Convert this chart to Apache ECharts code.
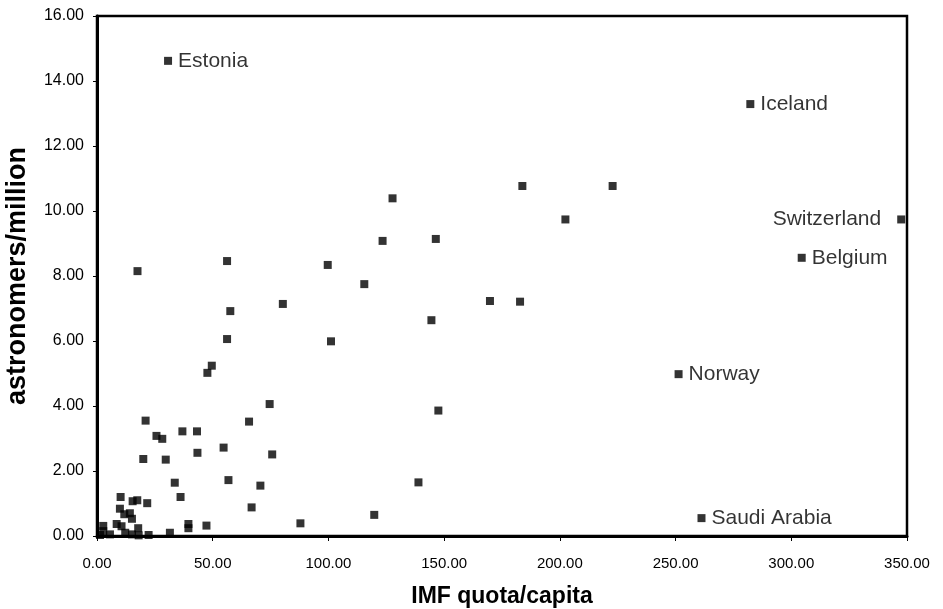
<!DOCTYPE html>
<html>
<head>
<meta charset="utf-8">
<script src="https://cdn.jsdelivr.net/npm/echarts@6/dist/echarts.min.js"></script>
<style>
html,body{margin:0;padding:0;background:#fff;}
#chart{width:943px;height:609px;}
</style>
</head>
<body>
<div id="chart"></div>
<script>
// Labelled countries
const countryNames = ["Estonia", "Iceland", "Switzerland", "Belgium", "Norway", "Saudi Arabia"];
const countryQuota = [30.7, 282.3, 347.5, 304.5, 251.3, 261.2];
const countryAstro = [14.62, 13.29, 9.74, 8.56, 4.98, 0.55];
const labelSide = ["right", "right", "left", "right", "right", "right"];

// Unlabelled countries
const otherQuota = [183.8, 222.8, 202.4, 127.7, 123.4, 146.4, 99.7, 115.5, 80.3, 144.5, 101.1, 147.5, 138.9, 119.8, 87.9, 169.8, 182.8,
  56.2, 57.6, 56.2, 49.6, 47.7, 74.6, 65.7, 21.0, 25.7, 28.2, 36.9, 43.2, 20.0, 29.7, 43.4, 54.7, 75.7, 33.6, 56.8, 70.6, 36.1, 66.8,
  10.2, 15.4, 17.4, 21.7, 9.9, 11.8, 14.2, 15.1, 39.5, 39.5, 47.3, 31.5, 2.7, 2.7, 8.5, 10.6, 17.8, 12.2, 15.1, 18.0, 22.3, 5.6, 1.3, 17.5];
const otherAstro = [10.77, 10.77, 9.74, 10.39, 9.08, 9.14, 8.34, 7.75, 7.14, 6.64, 5.99, 3.86, 1.65, 0.65, 0.39, 7.23, 7.21,
  8.46, 6.92, 6.06, 5.24, 5.02, 4.06, 3.52, 3.55, 3.08, 2.99, 3.22, 3.22, 2.37, 2.35, 2.56, 2.72, 2.51, 1.64, 1.72, 1.55, 1.20, 0.88,
  1.20, 1.07, 1.10, 1.01, 0.84, 0.67, 0.70, 0.53, 0.37, 0.24, 0.32, 0.10, 0.31, 0.15, 0.37, 0.30, 0.24, 0.10, 0.05, 0.02, 0.03, 0.05, 0.03, 8.15];

const xTitle = "IMF quota/capita";
const yTitle = "astronomers/million";

const font = "Liberation Sans, Arial, sans-serif";

const labelledData = countryNames.map((n, i) => ({
  name: n,
  value: [countryQuota[i], countryAstro[i]],
  label: {
    show: true,
    position: labelSide[i],
    formatter: '{b}',
    distance: labelSide[i] === 'left' ? 16 : 6,
    color: '#000',
    fontFamily: font,
    fontSize: 21
  }
}));
const otherData = otherQuota.map((x, i) => [x, otherAstro[i]]);

const chart = echarts.init(document.getElementById('chart'), null, {renderer: 'canvas'});
chart.setOption({
  animation: false,
  backgroundColor: '#fff',
  grid: {left: 97, right: 36, top: 16, bottom: 73, outerBoundsMode: 'none', containLabel: false,
         show: true, borderColor: '#000', borderWidth: 2.5, backgroundColor: 'transparent'},
  xAxis: {
    type: 'value', min: 0, max: 350, interval: 50,
    name: xTitle, nameLocation: 'middle', nameGap: 49,
    nameTextStyle: {fontFamily: font, fontSize: 23, fontWeight: 'bold', color: '#000'},
    axisLine: {show: true, onZero: false, lineStyle: {color: '#000', width: 3}},
    axisTick: {show: true, length: 5, lineStyle: {color: '#000', width: 1}},
    axisLabel: {color: '#000', fontFamily: font, fontSize: 15, margin: 20, formatter: v => v.toFixed(2)},
    splitLine: {show: false}
  },
  yAxis: {
    type: 'value', min: 0, max: 16, interval: 2,
    name: yTitle, nameLocation: 'middle', nameGap: 66, nameRotate: 90,
    nameTextStyle: {fontFamily: font, fontSize: 27, fontWeight: 'bold', color: '#000'},
    axisLine: {show: true, onZero: false, lineStyle: {color: '#000', width: 3}},
    axisTick: {show: true, length: 4, lineStyle: {color: '#000', width: 1}},
    axisLabel: {color: '#000', fontFamily: font, fontSize: 16, margin: 13, formatter: v => v.toFixed(2)},
    splitLine: {show: false}
  },
  series: [
    {type: 'scatter', symbol: 'rect', symbolSize: 8, itemStyle: {color: '#000'}, data: otherData},
    {type: 'scatter', symbol: 'rect', symbolSize: 8, itemStyle: {color: '#000'}, data: labelledData}
  ]
});
</script>
</body>
</html>
